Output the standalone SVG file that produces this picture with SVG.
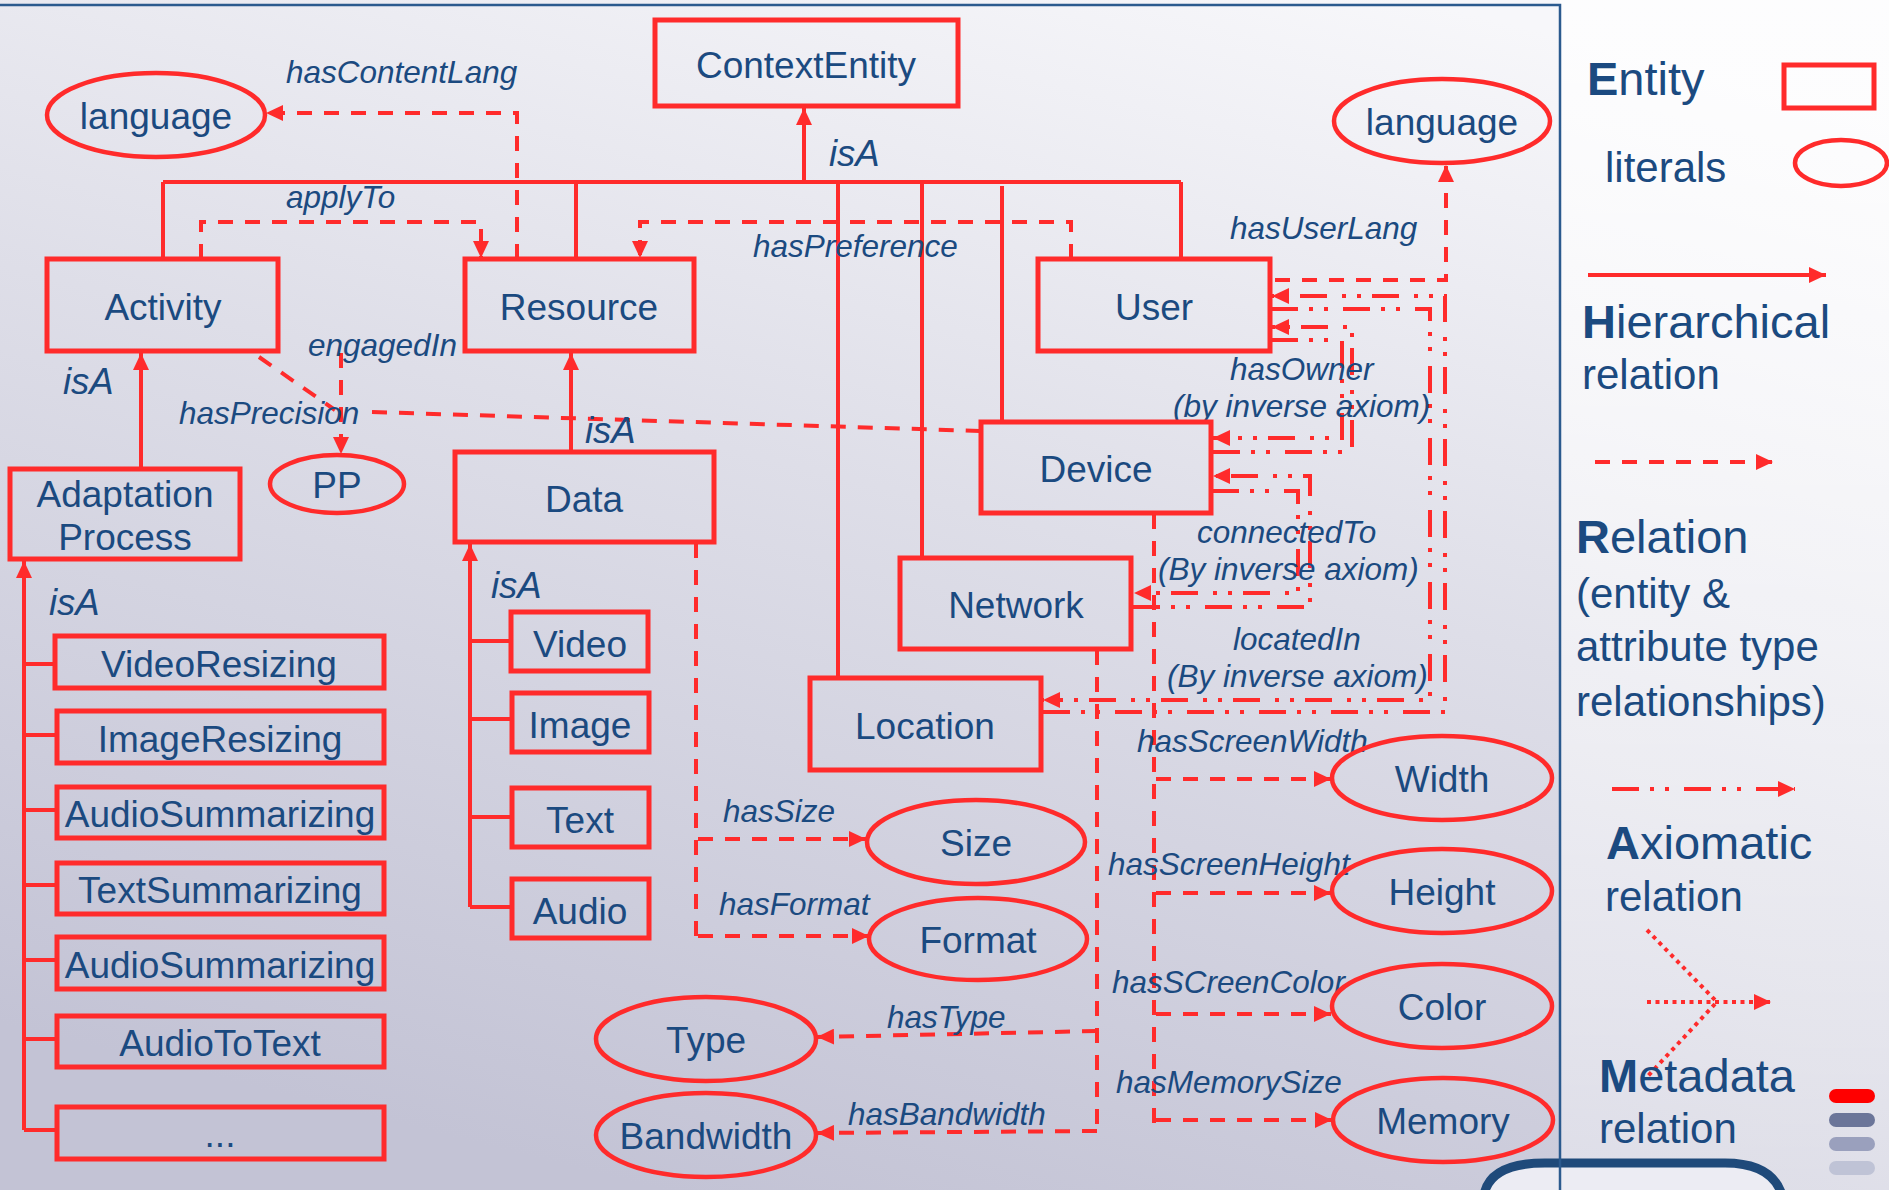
<svg xmlns="http://www.w3.org/2000/svg" width="1889" height="1190" viewBox="0 0 1889 1190">
  <defs>
    <linearGradient id="bg" x1="0.75" y1="0" x2="0.35" y2="1">
      <stop offset="0" stop-color="#f7f7fa"/>
      <stop offset="0.45" stop-color="#dedee8"/>
      <stop offset="1" stop-color="#c3c3d5"/>
    </linearGradient>
    <linearGradient id="panel" x1="0" y1="0" x2="0" y2="1">
      <stop offset="0" stop-color="#ffffff" stop-opacity="0.75"/>
      <stop offset="1" stop-color="#ffffff" stop-opacity="0.35"/>
    </linearGradient>
    <marker id="ah" markerUnits="userSpaceOnUse" markerWidth="18" markerHeight="16" refX="17" refY="8" orient="auto">
      <path d="M0,0 L17,8 L0,16 z" fill="#ff2b2b"/>
    </marker>
    <style>
      .box { fill: none; stroke: #ff2b2b; stroke-width: 5; }
      .lit { fill: none; stroke: #ff2b2b; stroke-width: 4.5; }
      .t { font-family: "Liberation Sans", Arial, sans-serif; font-size: 37px; fill: #1b4a80; text-anchor: middle; }
      .rel { font-family: "Liberation Sans", Arial, sans-serif; font-size: 31.5px; font-style: italic; fill: #1b4a80; }
      .isa { font-family: "Liberation Sans", Arial, sans-serif; font-size: 36.5px; font-style: italic; fill: #1b4a80; }
      .lg { font-family: "Liberation Sans", Arial, sans-serif; font-size: 42px; fill: #1b4a80; }
      .lgh { font-family: "Liberation Sans", Arial, sans-serif; font-size: 47px; fill: #1b4a80; }
      .hier { fill: none; stroke: #ff2b2b; stroke-width: 4; }
      .rela { fill: none; stroke: #ff2b2b; stroke-width: 4; stroke-dasharray: 15 12; }
      .axio { fill: none; stroke: #ff2b2b; stroke-width: 4; stroke-dasharray: 27 11 4 11 4 15; }
      .meta { fill: none; stroke: #ff2b2b; stroke-width: 4; stroke-dasharray: 4 4.5; }
      .frame { fill: none; stroke: #2b5a8e; stroke-width: 2.5; }
    </style>
  </defs>

  <!-- background -->
  <rect x="0" y="0" width="1889" height="1190" fill="url(#bg)"/>
  <rect x="1560" y="0" width="329" height="1190" fill="url(#panel)"/>
  <path d="M1484,1192 Q1490,1163 1545,1163 L1725,1163 Q1772,1163 1782,1192 Z" fill="#ececf3"/>
  <path d="M1484,1195 Q1490,1163 1545,1163 L1725,1163 Q1772,1163 1782,1195" fill="none" stroke="#1f4a7a" stroke-width="9"/>
  <path class="frame" d="M0,5 H1560 V1190"/>

  <!-- connectors -->
  <g id="connectors">
    <!-- hierarchical (isA) -->
    <path class="hier" d="M163,182 H1181"/>
    <path class="hier" d="M804,182 V108" marker-end="url(#ah)"/>
    <path class="hier" d="M163,182 V259 M576,182 V259 M838,182 V678 M922,182 V558 M1002,186 V422 M1181,182 V259"/>
    <path class="hier" d="M141,469 V353" marker-end="url(#ah)"/>
    <path class="hier" d="M571,452 V353" marker-end="url(#ah)"/>
    <path class="hier" d="M24,1130 V561" marker-end="url(#ah)"/>
    <path class="hier" d="M24,664 H55 M24,735 H57 M24,810 H57 M24,885 H57 M24,960 H57 M24,1039 H57 M24,1130 H57"/>
    <path class="hier" d="M470,907 V544" marker-end="url(#ah)"/>
    <path class="hier" d="M470,641 H511 M470,719 H512 M470,817 H512 M470,907 H512"/>

    <!-- relations -->
    <path class="rela" d="M517,259 V113 H266" marker-end="url(#ah)"/>
    <path class="rela" d="M201,259 V222 H481 V258" marker-end="url(#ah)"/>
    <path class="rela" d="M1071,259 V222 H640 V258" marker-end="url(#ah)"/>
    <path class="rela" d="M341,353 V454" marker-end="url(#ah)"/>
    <path class="rela" d="M259,357 L335,410 M372,412 L980,431"/>
    <path class="rela" d="M1275,280 H1446 V165" marker-end="url(#ah)"/>
    <path class="rela" d="M696,543 V936"/>
    <path class="rela" d="M698,839 H866" marker-end="url(#ah)"/>
    <path class="rela" d="M698,936 H869" marker-end="url(#ah)"/>
    <path class="rela" d="M1097,650 V1131"/>
    <path class="rela" d="M1097,1031 L817,1037" marker-end="url(#ah)"/>
    <path class="rela" d="M1097,1131 L817,1133" marker-end="url(#ah)"/>
    <path class="rela" d="M1154,514 V1123"/>
    <path class="rela" d="M1156,779 H1331" marker-end="url(#ah)"/>
    <path class="rela" d="M1156,893 H1331" marker-end="url(#ah)"/>
    <path class="rela" d="M1156,1014 H1331" marker-end="url(#ah)"/>
    <path class="rela" d="M1156,1120 H1332" marker-end="url(#ah)"/>

    <!-- axiomatic (inverse) relations -->
    <path class="axio" d="M1213,452 H1352 V327 H1272" marker-end="url(#ah)"/>
    <path class="axio" d="M1271,340 H1342 V438 H1213" marker-end="url(#ah)"/>
    <path class="axio" d="M1133,607 H1310 V476 H1213" marker-end="url(#ah)"/>
    <path class="axio" d="M1212,491 H1298 V593 H1134" marker-end="url(#ah)"/>
    <path class="axio" d="M1043,712 H1445 V296 H1272" marker-end="url(#ah)"/>
    <path class="axio" d="M1271,309 H1430 V700 H1043" marker-end="url(#ah)"/>
  </g>

  <!-- relation labels -->
  <g id="labels">
    <text class="rel" x="286" y="83">hasContentLang</text>
    <text class="rel" x="286" y="208">applyTo</text>
    <text class="rel" x="753" y="257">hasPreference</text>
    <text class="rel" x="1230" y="239">hasUserLang</text>
    <text class="rel" x="308" y="356">engagedIn</text>
    <text class="rel" x="179" y="424">hasPrecision</text>
    <text class="rel" x="1230" y="380">hasOwner</text>
    <text class="rel" x="1173" y="417">(by inverse axiom)</text>
    <text class="rel" x="1197" y="543">connectedTo</text>
    <text class="rel" x="1158" y="580">(By inverse axiom)</text>
    <text class="rel" x="1233" y="650">locatedIn</text>
    <text class="rel" x="1167" y="687">(By inverse axiom)</text>
    <text class="rel" x="1137" y="752">hasScreenWidth</text>
    <text class="rel" x="1108" y="875">hasScreenHeight</text>
    <text class="rel" x="1112" y="993">hasSCreenColor</text>
    <text class="rel" x="1116" y="1093">hasMemorySize</text>
    <text class="rel" x="723" y="822">hasSize</text>
    <text class="rel" x="719" y="915">hasFormat</text>
    <text class="rel" x="887" y="1028">hasType</text>
    <text class="rel" x="848" y="1125">hasBandwidth</text>
    <text class="isa" x="829" y="166">isA</text>
    <text class="isa" x="63" y="394">isA</text>
    <text class="isa" x="585" y="443">isA</text>
    <text class="isa" x="491" y="598">isA</text>
    <text class="isa" x="49" y="615">isA</text>
  </g>

  <!-- entities -->
  <g id="ContextEntity"><rect class="box" x="655" y="20" width="303" height="86"/><text class="t" x="806" y="78">ContextEntity</text></g>
  <g id="Activity"><rect class="box" x="47" y="259" width="231" height="92"/><text class="t" x="163" y="320">Activity</text></g>
  <g id="Resource"><rect class="box" x="465" y="259" width="229" height="92"/><text class="t" x="579" y="320">Resource</text></g>
  <g id="User"><rect class="box" x="1038" y="259" width="232" height="92"/><text class="t" x="1154" y="320">User</text></g>
  <g id="Device"><rect class="box" x="981" y="422" width="230" height="91"/><text class="t" x="1096" y="482">Device</text></g>
  <g id="Network"><rect class="box" x="900" y="558" width="231" height="91"/><text class="t" x="1016" y="618">Network</text></g>
  <g id="Location"><rect class="box" x="810" y="678" width="231" height="92"/><text class="t" x="925" y="739">Location</text></g>
  <g id="Data"><rect class="box" x="455" y="452" width="259" height="90"/><text class="t" x="584" y="512">Data</text></g>
  <g id="AdaptationProcess"><rect class="box" x="10" y="469" width="230" height="90"/><text class="t" x="125" y="507">Adaptation</text><text class="t" x="125" y="550">Process</text></g>

  <g id="VideoResizing"><rect class="box" x="55" y="636" width="329" height="52"/><text class="t" x="219" y="677">VideoResizing</text></g>
  <g id="ImageResizing"><rect class="box" x="57" y="711" width="327" height="52"/><text class="t" x="220" y="752">ImageResizing</text></g>
  <g id="AudioSummarizing1"><rect class="box" x="57" y="787" width="327" height="51"/><text class="t" x="220" y="827">AudioSummarizing</text></g>
  <g id="TextSummarizing"><rect class="box" x="57" y="863" width="327" height="51"/><text class="t" x="220" y="903">TextSummarizing</text></g>
  <g id="AudioSummarizing2"><rect class="box" x="57" y="937" width="327" height="52"/><text class="t" x="220" y="978">AudioSummarizing</text></g>
  <g id="AudioToText"><rect class="box" x="57" y="1016" width="327" height="51"/><text class="t" x="220" y="1056">AudioToText</text></g>
  <g id="More"><rect class="box" x="57" y="1107" width="327" height="52"/><text class="t" x="220" y="1147">...</text></g>

  <g id="Video"><rect class="box" x="511" y="612" width="137" height="59"/><text class="t" x="580" y="657">Video</text></g>
  <g id="Image"><rect class="box" x="512" y="693" width="137" height="59"/><text class="t" x="580" y="738">Image</text></g>
  <g id="Text"><rect class="box" x="512" y="788" width="137" height="59"/><text class="t" x="580" y="833">Text</text></g>
  <g id="Audio"><rect class="box" x="512" y="879" width="137" height="59"/><text class="t" x="580" y="924">Audio</text></g>

  <!-- literals -->
  <g id="languageContent"><ellipse class="lit" cx="156" cy="115" rx="109" ry="42"/><text class="t" x="156" y="129">language</text></g>
  <g id="languageUser"><ellipse class="lit" cx="1442" cy="121" rx="108" ry="42"/><text class="t" x="1442" y="135">language</text></g>
  <g id="PP"><ellipse class="lit" cx="337" cy="484" rx="67" ry="29"/><text class="t" x="337" y="498">PP</text></g>
  <g id="Size"><ellipse class="lit" cx="976" cy="842" rx="109" ry="42"/><text class="t" x="976" y="856">Size</text></g>
  <g id="Format"><ellipse class="lit" cx="978" cy="939" rx="109" ry="41"/><text class="t" x="978" y="953">Format</text></g>
  <g id="Type"><ellipse class="lit" cx="706" cy="1039" rx="110" ry="42"/><text class="t" x="706" y="1053">Type</text></g>
  <g id="Bandwidth"><ellipse class="lit" cx="706" cy="1135" rx="110" ry="42"/><text class="t" x="706" y="1149">Bandwidth</text></g>
  <g id="Width"><ellipse class="lit" cx="1442" cy="778" rx="110" ry="42"/><text class="t" x="1442" y="792">Width</text></g>
  <g id="Height"><ellipse class="lit" cx="1442" cy="891" rx="110" ry="42"/><text class="t" x="1442" y="905">Height</text></g>
  <g id="Color"><ellipse class="lit" cx="1442" cy="1006" rx="110" ry="42"/><text class="t" x="1442" y="1020">Color</text></g>
  <g id="Memory"><ellipse class="lit" cx="1443" cy="1120" rx="110" ry="42"/><text class="t" x="1443" y="1134">Memory</text></g>

  <!-- legend -->
  <g id="legend">
    <text class="lgh" x="1587" y="95"><tspan font-weight="bold">E</tspan>ntity</text>
    <rect class="box" x="1784" y="65" width="90" height="43" stroke-width="4.5"/>
    <text class="lg" x="1605" y="182">literals</text>
    <ellipse class="lit" cx="1841" cy="163" rx="46" ry="23"/>
    <path class="hier" d="M1588,275 H1826" marker-end="url(#ah)"/>
    <text class="lgh" x="1582" y="338"><tspan font-weight="bold">H</tspan>ierarchical</text>
    <text class="lg" x="1582" y="389">relation</text>
    <path class="rela" d="M1595,462 H1773" marker-end="url(#ah)"/>
    <text class="lgh" x="1576" y="553"><tspan font-weight="bold">R</tspan>elation</text>
    <text class="lg" x="1576" y="608">(entity &amp;</text>
    <text class="lg" x="1576" y="661">attribute type</text>
    <text class="lg" x="1576" y="716">relationships)</text>
    <path class="axio" d="M1612,789 H1795" marker-end="url(#ah)"/>
    <text class="lgh" x="1606" y="859"><tspan font-weight="bold">A</tspan>xiomatic</text>
    <text class="lg" x="1605" y="911">relation</text>
    <path class="meta" d="M1647,930 L1715,1000 M1715,1004 L1647,1077 M1647,1002 H1771" marker-end="url(#ah)"/>
    <text class="lgh" x="1599" y="1092"><tspan font-weight="bold">M</tspan>etadata</text>
    <text class="lg" x="1599" y="1143">relation</text>
    <rect x="1829" y="1089" width="46" height="14" rx="7" fill="#ff0000"/>
    <rect x="1829" y="1113" width="46" height="14" rx="7" fill="#6b7599"/>
    <rect x="1829" y="1137" width="46" height="14" rx="7" fill="#9aa0bd"/>
    <rect x="1829" y="1161" width="46" height="14" rx="7" fill="#bfc3d6"/>
  </g>
</svg>
